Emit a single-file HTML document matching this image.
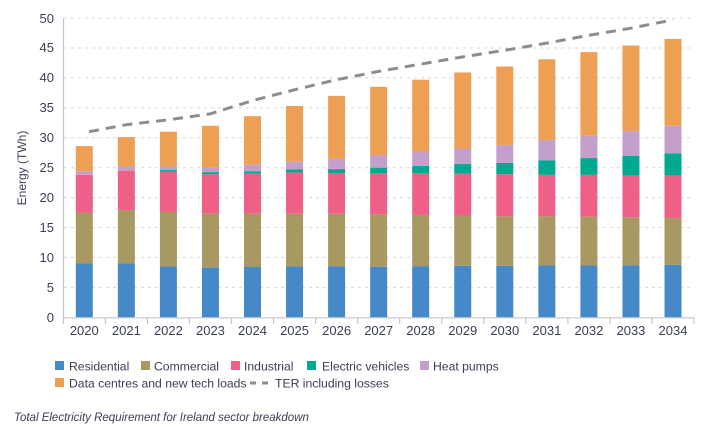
<!DOCTYPE html>
<html><head><meta charset="utf-8"><style>
html,body{margin:0;padding:0;background:#fff;}
svg{display:block;font-family:"Liberation Sans",sans-serif;}
</style></head><body>
<svg width="708" height="427" viewBox="0 0 708 427" xmlns="http://www.w3.org/2000/svg">
<g stroke="#d8d8de" stroke-width="1" stroke-dasharray="3,4">
<line x1="64" x2="694" y1="287.4" y2="287.4"/><line x1="64" x2="694" y1="257.4" y2="257.4"/>
<line x1="64" x2="694" y1="227.5" y2="227.5"/><line x1="64" x2="694" y1="197.6" y2="197.6"/>
<line x1="64" x2="694" y1="167.7" y2="167.7"/><line x1="64" x2="694" y1="137.7" y2="137.7"/>
<line x1="64" x2="694" y1="107.8" y2="107.8"/><line x1="64" x2="694" y1="77.9" y2="77.9"/>
<line x1="64" x2="694" y1="48" y2="48"/><line x1="64" x2="694" y1="18" y2="18"/>
</g>
<g transform="translate(0,317.3) scale(1,-5.986)">
<g fill="#4589c8">
<rect x="75.8" y="0" width="17" height="9"/><rect x="117.85" y="0" width="17" height="9"/><rect x="159.9" y="0" width="17" height="8.5"/><rect x="201.95" y="0" width="17" height="8.3"/><rect x="244" y="0" width="17" height="8.4"/><rect x="286.05" y="0" width="17" height="8.5"/><rect x="328.1" y="0" width="17" height="8.5"/><rect x="370.15" y="0" width="17" height="8.45"/><rect x="412.2" y="0" width="17" height="8.55"/><rect x="454.25" y="0" width="17" height="8.6"/><rect x="496.3" y="0" width="17" height="8.6"/><rect x="538.35" y="0" width="17" height="8.65"/><rect x="580.4" y="0" width="17" height="8.65"/><rect x="622.45" y="0" width="17" height="8.7"/><rect x="664.5" y="0" width="17" height="8.75"/>
</g>
<g fill="#a89862">
<rect x="75.8" y="9" width="17" height="8.5"/><rect x="117.85" y="9" width="17" height="8.9"/><rect x="159.9" y="8.5" width="17" height="9.1"/><rect x="201.95" y="8.3" width="17" height="9"/><rect x="244" y="8.4" width="17" height="8.9"/><rect x="286.05" y="8.5" width="17" height="8.8"/><rect x="328.1" y="8.5" width="17" height="8.8"/><rect x="370.15" y="8.45" width="17" height="8.75"/><rect x="412.2" y="8.55" width="17" height="8.55"/><rect x="454.25" y="8.6" width="17" height="8.4"/><rect x="496.3" y="8.6" width="17" height="8.3"/><rect x="538.35" y="8.65" width="17" height="8.25"/><rect x="580.4" y="8.65" width="17" height="8.15"/><rect x="622.45" y="8.7" width="17" height="8"/><rect x="664.5" y="8.75" width="17" height="7.85"/>
</g>
<g fill="#ee6087">
<rect x="75.8" y="17.5" width="17" height="6.3"/><rect x="117.85" y="17.9" width="17" height="6.6"/><rect x="159.9" y="17.6" width="17" height="6.7"/><rect x="201.95" y="17.3" width="17" height="6.6"/><rect x="244" y="17.3" width="17" height="6.7"/><rect x="286.05" y="17.3" width="17" height="6.9"/><rect x="328.1" y="17.3" width="17" height="6.8"/><rect x="370.15" y="17.2" width="17" height="6.9"/><rect x="412.2" y="17.1" width="17" height="7"/><rect x="454.25" y="17" width="17" height="7"/><rect x="496.3" y="16.9" width="17" height="7"/><rect x="538.35" y="16.9" width="17" height="6.9"/><rect x="580.4" y="16.8" width="17" height="7"/><rect x="622.45" y="16.7" width="17" height="7"/><rect x="664.5" y="16.6" width="17" height="7.1"/>
</g>
<g fill="#00a98f">
<rect x="159.9" y="24.3" width="17" height="0.3"/><rect x="201.95" y="23.9" width="17" height="0.35"/><rect x="244" y="24" width="17" height="0.4"/><rect x="286.05" y="24.2" width="17" height="0.5"/><rect x="328.1" y="24.1" width="17" height="0.7"/><rect x="370.15" y="24.1" width="17" height="0.9"/><rect x="412.2" y="24.1" width="17" height="1.2"/><rect x="454.25" y="24" width="17" height="1.6"/><rect x="496.3" y="23.9" width="17" height="1.9"/><rect x="538.35" y="23.8" width="17" height="2.4"/><rect x="580.4" y="23.8" width="17" height="2.8"/><rect x="622.45" y="23.7" width="17" height="3.3"/><rect x="664.5" y="23.7" width="17" height="3.7"/>
</g>
<g fill="#c39fcb">
<rect x="75.8" y="23.8" width="17" height="0.6"/><rect x="117.85" y="24.5" width="17" height="0.7"/><rect x="159.9" y="24.6" width="17" height="0.6"/><rect x="201.95" y="24.25" width="17" height="0.75"/><rect x="244" y="24.4" width="17" height="1.1"/><rect x="286.05" y="24.7" width="17" height="1.3"/><rect x="328.1" y="24.8" width="17" height="1.7"/><rect x="370.15" y="25" width="17" height="2.1"/><rect x="412.2" y="25.3" width="17" height="2.4"/><rect x="454.25" y="25.6" width="17" height="2.6"/><rect x="496.3" y="25.8" width="17" height="3"/><rect x="538.35" y="26.2" width="17" height="3.4"/><rect x="580.4" y="26.6" width="17" height="3.8"/><rect x="622.45" y="27" width="17" height="4.1"/><rect x="664.5" y="27.4" width="17" height="4.6"/>
</g>
<g fill="#eda053">
<rect x="75.8" y="24.4" width="17" height="4.2"/><rect x="117.85" y="25.2" width="17" height="4.9"/><rect x="159.9" y="25.2" width="17" height="5.8"/><rect x="201.95" y="25" width="17" height="7"/><rect x="244" y="25.5" width="17" height="8.1"/><rect x="286.05" y="26" width="17" height="9.3"/><rect x="328.1" y="26.5" width="17" height="10.5"/><rect x="370.15" y="27.1" width="17" height="11.4"/><rect x="412.2" y="27.7" width="17" height="12"/><rect x="454.25" y="28.2" width="17" height="12.7"/><rect x="496.3" y="28.8" width="17" height="13.1"/><rect x="538.35" y="29.6" width="17" height="13.5"/><rect x="580.4" y="30.4" width="17" height="13.9"/><rect x="622.45" y="31.1" width="17" height="14.3"/><rect x="664.5" y="32" width="17" height="14.5"/>
</g>
</g>
<polyline fill="none" stroke="#8c8c94" stroke-width="3" stroke-dasharray="10,7" points="89,131.7 126.35,124.7 168.4,119.8 210.45,113.8 252.5,100.6 294.55,89.8 336.6,79.7 378.65,71.4 420.7,64.1 462.75,56.9 504.8,50.3 546.85,43.1 588.9,35.3 630.95,28.2 673,19.8"/>
<g stroke="#c4c4cc" stroke-width="1.2">
<line x1="63.5" y1="18" x2="63.5" y2="324"/><line x1="63" y1="317.8" x2="694" y2="317.8"/>
<line x1="105.35" y1="318" x2="105.35" y2="324"/><line x1="147.4" y1="318" x2="147.4" y2="324"/><line x1="189.45" y1="318" x2="189.45" y2="324"/><line x1="231.5" y1="318" x2="231.5" y2="324"/><line x1="273.55" y1="318" x2="273.55" y2="324"/><line x1="315.6" y1="318" x2="315.6" y2="324"/><line x1="357.65" y1="318" x2="357.65" y2="324"/><line x1="399.7" y1="318" x2="399.7" y2="324"/><line x1="441.75" y1="318" x2="441.75" y2="324"/><line x1="483.8" y1="318" x2="483.8" y2="324"/><line x1="525.85" y1="318" x2="525.85" y2="324"/><line x1="567.9" y1="318" x2="567.9" y2="324"/><line x1="609.95" y1="318" x2="609.95" y2="324"/><line x1="652" y1="318" x2="652" y2="324"/><line x1="694" y1="318" x2="694" y2="324"/>
</g>
<g fill="#3a3f55" font-size="13" text-anchor="end">
<text x="54" y="322">0</text><text x="54" y="292">5</text><text x="54" y="262">10</text><text x="54" y="232">15</text><text x="54" y="202">20</text><text x="54" y="172">25</text><text x="54" y="142">30</text><text x="54" y="112">35</text><text x="54" y="82">40</text><text x="54" y="52">45</text><text x="54" y="23">50</text>
</g>
<g fill="#3a3f55" font-size="13" text-anchor="middle">
<text x="84.3" y="335">2020</text><text x="126.35" y="335">2021</text><text x="168.4" y="335">2022</text><text x="210.45" y="335">2023</text><text x="252.5" y="335">2024</text><text x="294.55" y="335">2025</text><text x="336.6" y="335">2026</text><text x="378.65" y="335">2027</text><text x="420.7" y="335">2028</text><text x="462.75" y="335">2029</text><text x="504.8" y="335">2030</text><text x="546.85" y="335">2031</text><text x="588.9" y="335">2032</text><text x="630.95" y="335">2033</text><text x="673" y="335">2034</text>
</g>
<text transform="translate(26,168) rotate(-90)" text-anchor="middle" font-size="12" fill="#3a3f55">Energy (TWh)</text>
<g font-size="12.2" fill="#3a3f55">
<rect x="55" y="361" width="9" height="9" fill="#4589c8"/><text x="69" y="370.5">Residential</text>
<rect x="141" y="361" width="9" height="9" fill="#a89862"/><text x="154" y="370.5">Commercial</text>
<rect x="231" y="361" width="9" height="9" fill="#ee6087"/><text x="244" y="370.5">Industrial</text>
<rect x="307" y="361" width="9" height="9" fill="#00a98f"/><text x="322" y="370.5">Electric vehicles</text>
<rect x="420" y="361" width="9" height="9" fill="#c39fcb"/><text x="433" y="370.5">Heat pumps</text>
<rect x="55" y="378" width="9" height="9" fill="#eda053"/><text x="69" y="387.5">Data centres and new tech loads</text>
<line x1="250" y1="383" x2="268" y2="383" stroke="#8c8c94" stroke-width="3" stroke-dasharray="6,6"/><text x="275" y="387.5">TER including losses</text>
</g>
<text x="14" y="421" font-size="11.5" font-style="italic" fill="#3a3f55">Total Electricity Requirement for Ireland sector breakdown</text>
</svg>
</body></html>
